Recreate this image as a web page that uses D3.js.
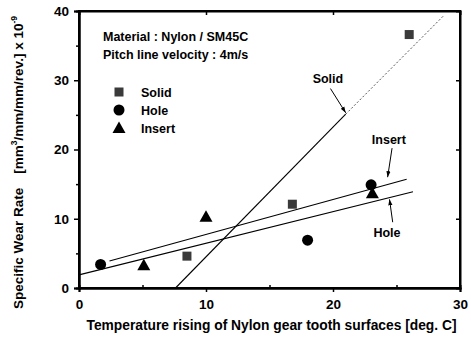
<!DOCTYPE html>
<html>
<head>
<meta charset="utf-8">
<script src="https://cdn.jsdelivr.net/npm/d3@7"></script>
<style>
  body { margin: 0; background: #fff; }
  svg text { font-family: "Liberation Sans", Arial, sans-serif; font-weight: bold; fill: #000; }
</style>
</head>
<body>
<div id="chart-area"></div>
<script>
// measured points
const solidX = [8.5, 16.8, 26.0];
const solidY = [4.6, 12.1, 36.6];
const holeX = [1.7, 18.0, 23.0];
const holeY = [3.4, 6.9, 14.9];
const insertX = [5.1, 10.0, 23.1];
const insertY = [3.3, 10.3, 13.7];

// fitted lines (end points)
const solidFit = [[7.6, 0], [21.0, 25.1]];
const solidFitExt = [[21.0, 25.1], [28.7, 39.3]];
const insertFit = [[2.4, 3.9], [25.8, 15.7]];
const holeFit = [[0, 1.9], [26.3, 13.9]];

const xTicks = [0, 10, 20, 30];
const yTicks = [0, 10, 20, 30, 40];
const xMinor = [5, 15, 25];
const yMinor = [5, 15, 25, 35];

let margin = { left: 79, right: 11, top: 11, bottom: 50 };
let width = 471 - margin.left - margin.right,
    height = 338 - margin.top - margin.bottom;

let svg = d3.select("#chart-area")
    .append("svg")
        .attr("width", 471)
        .attr("height", 338);

let g = svg.append("g")
    .attr("transform", `translate(${margin.left}, ${margin.top})`);

let x = d3.scaleLinear().domain([0, 30]).range([0, width]);
let y = d3.scaleLinear().domain([0, 40]).range([height, 0]);

// frame
g.append("rect")
    .attr("width", width)
    .attr("height", height)
    .attr("fill", "none")
    .attr("stroke", "#000")
    .attr("stroke-width", 2);

// axes
let xAxis = g.append("g")
    .attr("transform", `translate(0, ${height})`)
    .call(d3.axisBottom(x).tickValues(xTicks).tickSize(4).tickFormat(d3.format("d")));
let yAxis = g.append("g")
    .call(d3.axisLeft(y).tickValues(yTicks).tickSize(5).tickFormat(d3.format("d")));
g.append("g")
    .attr("transform", `translate(0, ${height})`)
    .call(d3.axisTop(x).tickValues(xMinor).tickSize(3).tickFormat(""));
g.append("g")
    .call(d3.axisLeft(y).tickValues(yMinor).tickSize(3).tickFormat(""));
g.append("g")
    .call(d3.axisBottom(x).tickValues([10, 20]).tickSize(4).tickFormat(""));
g.append("g")
    .attr("transform", `translate(${width}, 0)`)
    .call(d3.axisLeft(y).tickValues([10, 20, 30]).tickSize(4).tickFormat(""));

g.selectAll(".domain").attr("stroke", "#000").attr("stroke-width", 2);
g.selectAll(".tick line").attr("stroke", "#000").attr("stroke-width", 1.5);
xAxis.selectAll("text").attr("font-size", "13.5px").attr("dy", "1.05em");
yAxis.selectAll("text").attr("font-size", "13.5px").attr("dx", "-0.15em");

// axis labels
g.append("text")
    .attr("x", width / 2 + 2)
    .attr("y", height + 42)
    .attr("font-size", "13.8px")
    .attr("text-anchor", "middle")
    .text("Temperature rising of Nylon gear tooth surfaces [deg. C]");

let yl = g.append("text")
    .attr("transform", `translate(-56, ${height / 2 + 13}) rotate(-90)`)
    .attr("font-size", "13.5px")
    .attr("text-anchor", "middle");
yl.append("tspan").text("Specific Wear Rate");
yl.append("tspan").attr("dx", 14).text("[mm");
yl.append("tspan").attr("dy", -6).attr("font-size", "8.5px").text("3");
yl.append("tspan").attr("dy", 6).text("/mm/mm/rev.] x 10");
yl.append("tspan").attr("dy", -6).attr("font-size", "8.5px").text("-9");

// fit lines
let line = d3.line().x(d => x(d[0])).y(d => y(d[1]));
[solidFit, insertFit, holeFit].forEach(p => {
    g.append("path").attr("d", line(p)).attr("fill", "none")
        .attr("stroke", "#000").attr("stroke-width", 1.1);
});
g.append("path").attr("d", line(solidFitExt)).attr("fill", "none")
    .attr("stroke", "#555").attr("stroke-width", 1).attr("stroke-dasharray", "2,2");

// markers
function square(sel, cx, cy) {
    sel.append("rect").attr("x", cx - 4.5).attr("y", cy - 4.5)
        .attr("width", 9).attr("height", 9).attr("fill", "#3a3a3a");
}
function circle(sel, cx, cy) {
    sel.append("circle").attr("cx", cx).attr("cy", cy).attr("r", 5.5).attr("fill", "#000");
}
function triangle(sel, cx, cy) {
    sel.append("path")
        .attr("d", `M${cx},${cy - 6.5}L${cx + 6.5},${cy + 5}L${cx - 6.5},${cy + 5}Z`)
        .attr("fill", "#000");
}
solidX.forEach((v, i) => square(g, x(v), y(solidY[i])));
holeX.forEach((v, i) => circle(g, x(v), y(holeY[i])));
insertX.forEach((v, i) => triangle(g, x(v), y(insertY[i])));

// annotation texts
g.append("text").attr("x", 24).attr("y", 30).attr("font-size", "12.5px")
    .text("Material : Nylon / SM45C");
g.append("text").attr("x", 24).attr("y", 48).attr("font-size", "12.5px")
    .text("Pitch line velocity : 4m/s");

// legend
const legendNames = ["Solid", "Hole", "Insert"];
const legendMarks = [square, circle, triangle];
legendNames.forEach((name, i) => {
    let cy = 81 + i * 18;
    legendMarks[i](g, 40, cy);
    g.append("text").attr("x", 62).attr("y", cy + 4.5).attr("font-size", "12.5px").text(name);
});

// arrows
svg.append("defs").append("marker")
    .attr("id", "ah").attr("viewBox", "0 0 10 10")
    .attr("refX", 10).attr("refY", 5)
    .attr("markerWidth", 6).attr("markerHeight", 6)
    .attr("orient", "auto")
    .append("path").attr("d", "M0,1.5L10,5L0,8.5Z").attr("fill", "#000");

const notes = [
    { label: "Solid", tx: 19.6, ty: 30.2, from: [19.8, 28.8], to: [21.0, 25.3] },
    { label: "Insert", tx: 24.4, ty: 21.5, from: [24.65, 20.2], to: [24.3, 16.0] },
    { label: "Hole", tx: 24.25, ty: 8.0, from: [24.7, 9.5], to: [24.45, 12.8] }
];
notes.forEach(n => {
    g.append("text").attr("x", x(n.tx)).attr("y", y(n.ty) + 4.5)
        .attr("text-anchor", "middle").attr("font-size", "12.5px").text(n.label);
    g.append("line")
        .attr("x1", x(n.from[0])).attr("y1", y(n.from[1]))
        .attr("x2", x(n.to[0])).attr("y2", y(n.to[1]))
        .attr("stroke", "#000").attr("stroke-width", 1)
        .attr("marker-end", "url(#ah)");
});
</script>
</body>
</html>
